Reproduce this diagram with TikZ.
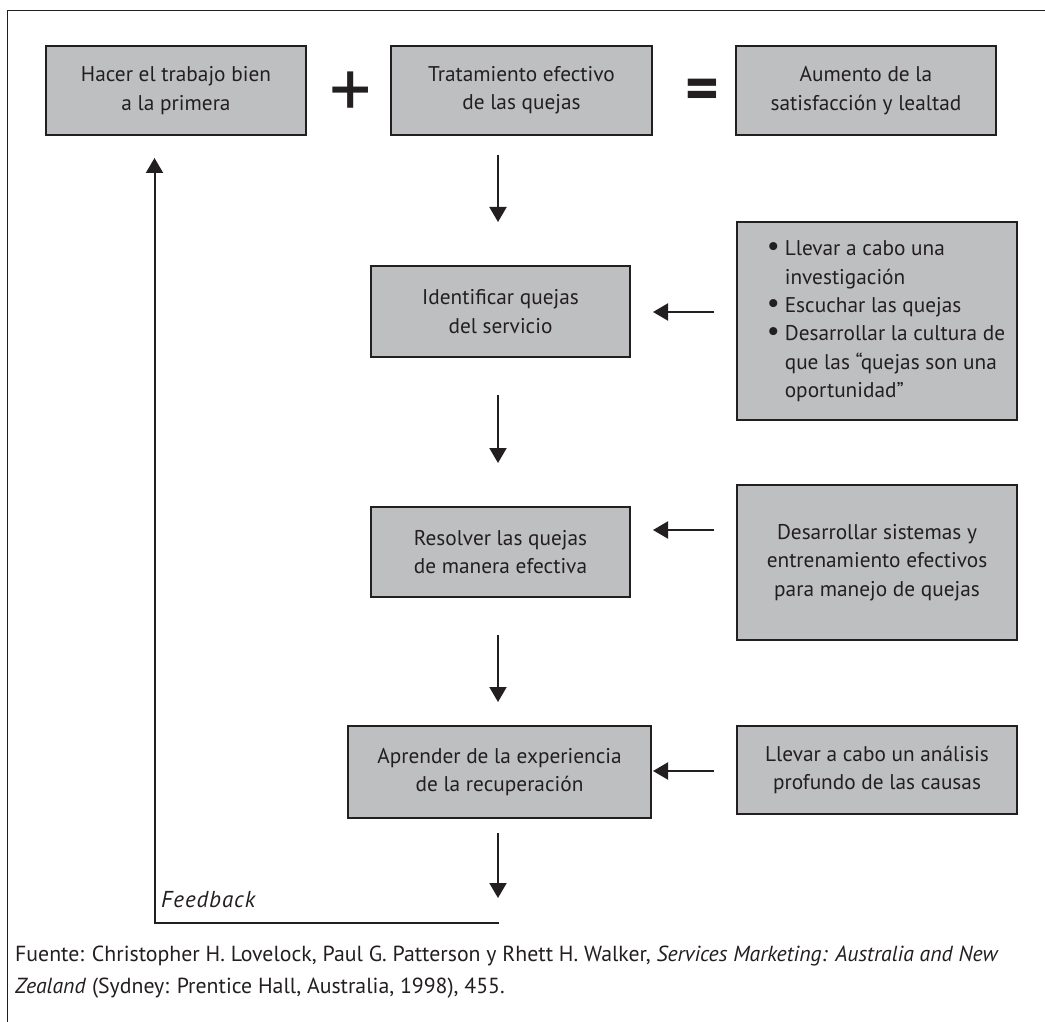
\documentclass[tikz,border=0pt]{standalone}
\usepackage{fontspec}
\setmainfont{PT Sans}
\usetikzlibrary{arrows.meta}
\definecolor{boxgray}{RGB}{190,191,193}
\definecolor{ink}{RGB}{35,31,32}
\newcommand\bxfont{\fontsize{21.3}{28.3}\selectfont}
\newcommand\bigbul{\makebox[18pt][l]{\raisebox{0.5pt}{\scalebox{1.35}{\textbullet}}}}
\begin{document}
\begin{tikzpicture}[x=1pt,y=-1pt,
  box/.style={draw=ink, fill=boxgray, line width=2.7pt, align=center, text=ink,
              font=\bxfont, inner sep=0pt, rectangle},
  flow/.style={draw=ink, line width=2pt, -{Triangle[width=17pt,length=15pt]}},
  frame/.style={draw=ink, line width=1.2pt}]
\useasboundingbox (0,0) rectangle (1045,1022);

% frame (top and left only)
\coordinate (fr1) at (1045,10.5);
\coordinate (fr2) at (7.5,10.5);
\coordinate (fr3) at (7.5,1022);
\draw[frame] (fr1) -- (fr2) -- (fr3);

% top row
\node[box, minimum width=260pt, minimum height=89pt] (b1) at (176,90.5)
  {Hacer el trabajo bien\\a la primera};
\node[box, minimum width=261pt, minimum height=89pt] (b2) at (521.5,90.5)
  {Tratamiento efectivo\\de las quejas};
\node[box, minimum width=260pt, minimum height=89pt] (b3) at (866,90.5)
  {Aumento de la\\satisfacción y lealtad};
\node[text=ink, font=\fontsize{84}{84}\selectfont, inner sep=0pt] (plus) at (350.5,95) {+};
\node[text=ink, font=\fontsize{64}{64}\selectfont\bfseries, inner sep=0pt] (eq) at (702,95) {=};

% central column
\node[box, minimum width=259pt, minimum height=91pt] (id) at (500.5,311.5)
  {Identificar quejas\\del servicio};
\node[box, minimum width=259pt, minimum height=90pt] (res) at (500.5,552)
  {Resolver las quejas\\de manera efectiva};
\node[box, minimum width=303pt, minimum height=92pt] (apr) at (499.5,772)
  {Aprender de la experiencia\\de la recuperación};

% right column
\node[box, minimum width=280pt, minimum height=198pt] (r1) at (877,321)
  {\begin{tabular}{@{}l@{\hspace{-18pt}}}
   \bigbul Llevar a cabo una\\
   \hspace*{18pt}investigación\\
   \bigbul Escuchar las quejas\\
   \bigbul Desarrollar la cultura de\\
   \hspace*{18pt}que las “quejas son una\\
   \hspace*{18pt}oportunidad”
   \end{tabular}};
\node[box, minimum width=280pt, minimum height=155pt] (r2) at (877,562.5)
  {Desarrollar sistemas y\\entrenamiento efectivos\\para manejo de quejas};
\node[box, minimum width=280pt, minimum height=88pt] (r3) at (877,770)
  {Llevar a cabo un análisis\\profundo de las causas};

% vertical arrows
\coordinate (v1a) at (498,155);  \coordinate (v1b) at (498,222);
\coordinate (v2a) at (498,395);  \coordinate (v2b) at (498,463);
\coordinate (v3a) at (498,635);  \coordinate (v3b) at (498,702);
\coordinate (v4a) at (498,833);  \coordinate (v4b) at (498,898);
\draw[flow] (v1a) -- (v1b);
\draw[flow] (v2a) -- (v2b);
\draw[flow] (v3a) -- (v3b);
\draw[flow] (v4a) -- (v4b);

% horizontal arrows
\coordinate (h1a) at (714,312);  \coordinate (h1b) at (653,312);
\coordinate (h2a) at (714,530);  \coordinate (h2b) at (653,530);
\coordinate (h3a) at (714,771);  \coordinate (h3b) at (653,771);
\draw[flow] (h1a) -- (h1b);
\draw[flow] (h2a) -- (h2b);
\draw[flow] (h3a) -- (h3b);

% feedback loop
\coordinate (fbR) at (499,923);
\coordinate (fbC) at (154.5,923);
\coordinate (fbT) at (154.5,158);
\draw[flow] (fbR) -- (fbC) -- (fbT);
\node[anchor=base west, text=ink, inner sep=0pt,
      font=\fontsize{23}{28}\selectfont\itshape\addfontfeatures{LetterSpace=4}] (fbl) at (161,907) {Feedback};

% source (base anchor = baseline of the last line)
\node[anchor=base west, align=left, text=ink, inner sep=0pt,
      font=\fontsize{21.8}{32}\selectfont] (src) at (15,993)
  {Fuente: Christopher H. Lovelock, Paul G. Patterson y Rhett H. Walker, \textit{Services Marketing: Australia and New}\\
   \textit{Zealand} (Sydney: Prentice Hall, Australia, 1998), 455.};
\end{tikzpicture}
\end{document}
